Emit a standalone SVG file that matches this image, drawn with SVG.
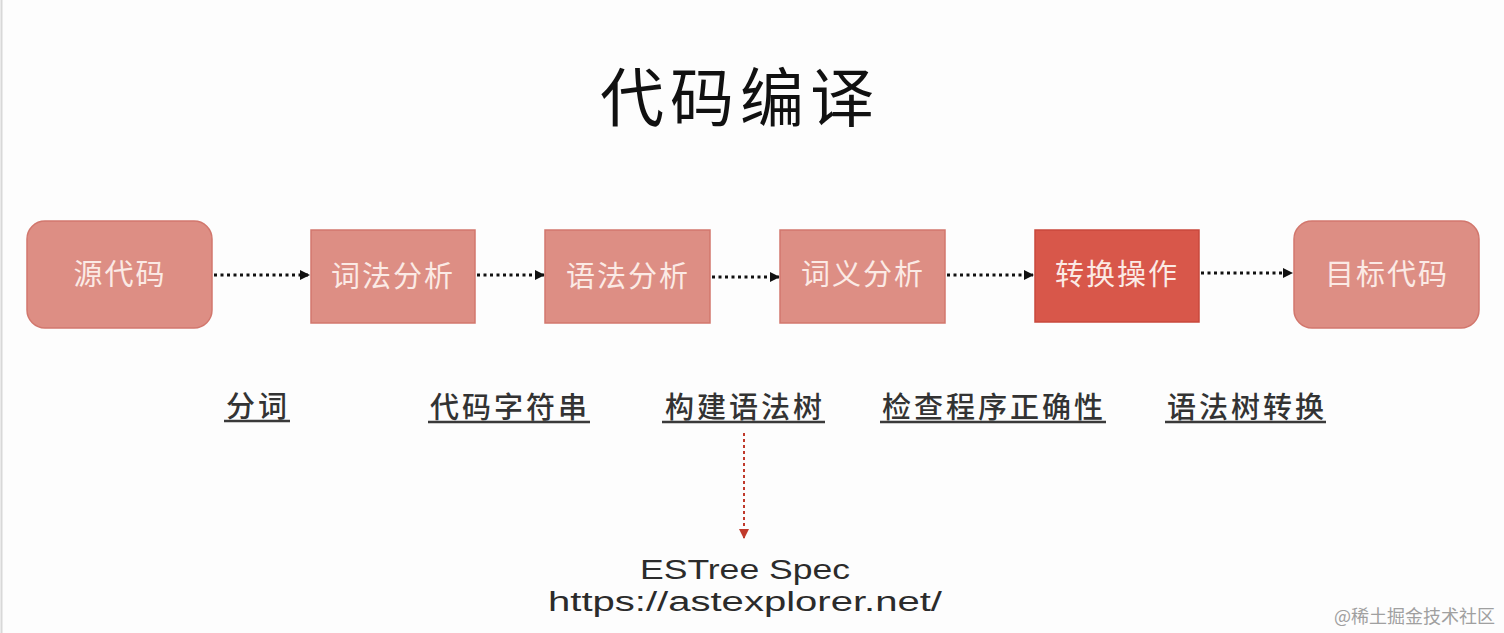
<svg xmlns="http://www.w3.org/2000/svg" width="1504" height="633" viewBox="0 0 1504 633">
<style>
.box{fill:#dd8e84;stroke:#d2776d;stroke-width:1.5}
.hot{fill:#d8574a;stroke:#c9483c;stroke-width:1.5}
.bt{font-family:"Noto Sans CJK SC","Noto Sans",sans-serif;font-size:29px;fill:#fbeae5;text-anchor:middle;letter-spacing:2px}
.lb{font-family:"Noto Sans CJK SC","Noto Sans",sans-serif;font-size:29px;font-weight:500;fill:#333;text-anchor:middle;letter-spacing:3px}
.ul{stroke:#3a3a3a;stroke-width:2.5}
.con{stroke:#111;stroke-width:3;stroke-dasharray:3 3.5;fill:none}
.red{stroke:#c0392b;stroke-width:2;stroke-dasharray:3 3;fill:none}
.en{font-family:"Liberation Sans","Open Sans",sans-serif;font-size:27px;fill:#2b2b2b;text-anchor:middle}
</style>
<defs>
<marker id="ah" markerWidth="10" markerHeight="10" refX="9" refY="5" orient="auto" markerUnits="userSpaceOnUse">
<path d="M0,0 L10,5 L0,10 Z" fill="#111"/>
</marker>
<marker id="ahr" markerWidth="10" markerHeight="10" refX="9" refY="5" orient="auto" markerUnits="userSpaceOnUse">
<path d="M0,0 L10,5 L0,10 Z" fill="#c0392b"/>
</marker>
</defs>
<rect x="0" y="0" width="1504" height="633" fill="#fdfdfd"/>
<line x1="1.5" y1="0" x2="1.5" y2="633" stroke="#d8d8d8" stroke-width="2"/>
<text x="740" y="121" font-family="Noto Sans CJK SC,Noto Sans,sans-serif" font-size="64" font-weight="400" fill="#111" text-anchor="middle" letter-spacing="6">代码编译</text>
<g id="connectors">
<line class="con" x1="214" y1="275" x2="309" y2="275" marker-end="url(#ah)"/>
<line class="con" x1="477" y1="275" x2="544" y2="275" marker-end="url(#ah)"/>
<line class="con" x1="712" y1="277" x2="779" y2="277" marker-end="url(#ah)"/>
<line class="con" x1="947" y1="275" x2="1033" y2="275" marker-end="url(#ah)"/>
<line class="con" x1="1201" y1="273" x2="1292" y2="273" marker-end="url(#ah)"/>
<line class="red" x1="744" y1="433" x2="744" y2="538" marker-end="url(#ahr)"/>
</g>
<g id="n-source"><rect class="box" x="27" y="221" width="185" height="107" rx="18"/><text class="bt" x="120" y="285">源代码</text></g>
<g id="n-lex"><rect class="box" x="311" y="230" width="164" height="93"/><text class="bt" x="393" y="287">词法分析</text></g>
<g id="n-syn"><rect class="box" x="545" y="230" width="165" height="93"/><text class="bt" x="628" y="287">语法分析</text></g>
<g id="n-sem"><rect class="box" x="780" y="230" width="165" height="93"/><text class="bt" x="863" y="285">词义分析</text></g>
<g id="n-trans"><rect class="hot" x="1035" y="230" width="164" height="92"/><text class="bt" x="1117" y="285">转换操作</text></g>
<g id="n-target"><rect class="box" x="1294" y="221" width="185" height="107" rx="18"/><text class="bt" x="1387" y="285">目标代码</text></g>
<g id="labels">
<text class="lb" x="258" y="417">分词</text><line class="ul" x1="224" y1="421" x2="290" y2="421"/>
<text class="lb" x="510" y="418">代码字符串</text><line class="ul" x1="428" y1="422" x2="590" y2="422"/>
<text class="lb" x="745" y="418">构建语法树</text><line class="ul" x1="662" y1="422" x2="825" y2="422"/>
<text class="lb" x="994" y="418">检查程序正确性</text><line class="ul" x1="880" y1="422" x2="1106" y2="422"/>
<text class="lb" x="1247" y="418">语法树转换</text><line class="ul" x1="1165" y1="422" x2="1326" y2="422"/>
</g>
<g id="n-estree">
<text class="en" x="745" y="579" textLength="210" lengthAdjust="spacingAndGlyphs">ESTree Spec</text>
<text class="en" x="745" y="611" textLength="394" lengthAdjust="spacingAndGlyphs">https://astexplorer.net/</text>
</g>
<text x="1495" y="623" font-family="Noto Sans CJK SC,Noto Sans,sans-serif" font-size="18" fill="#a0a0a0" text-anchor="end">@稀土掘金技术社区</text>
</svg>
